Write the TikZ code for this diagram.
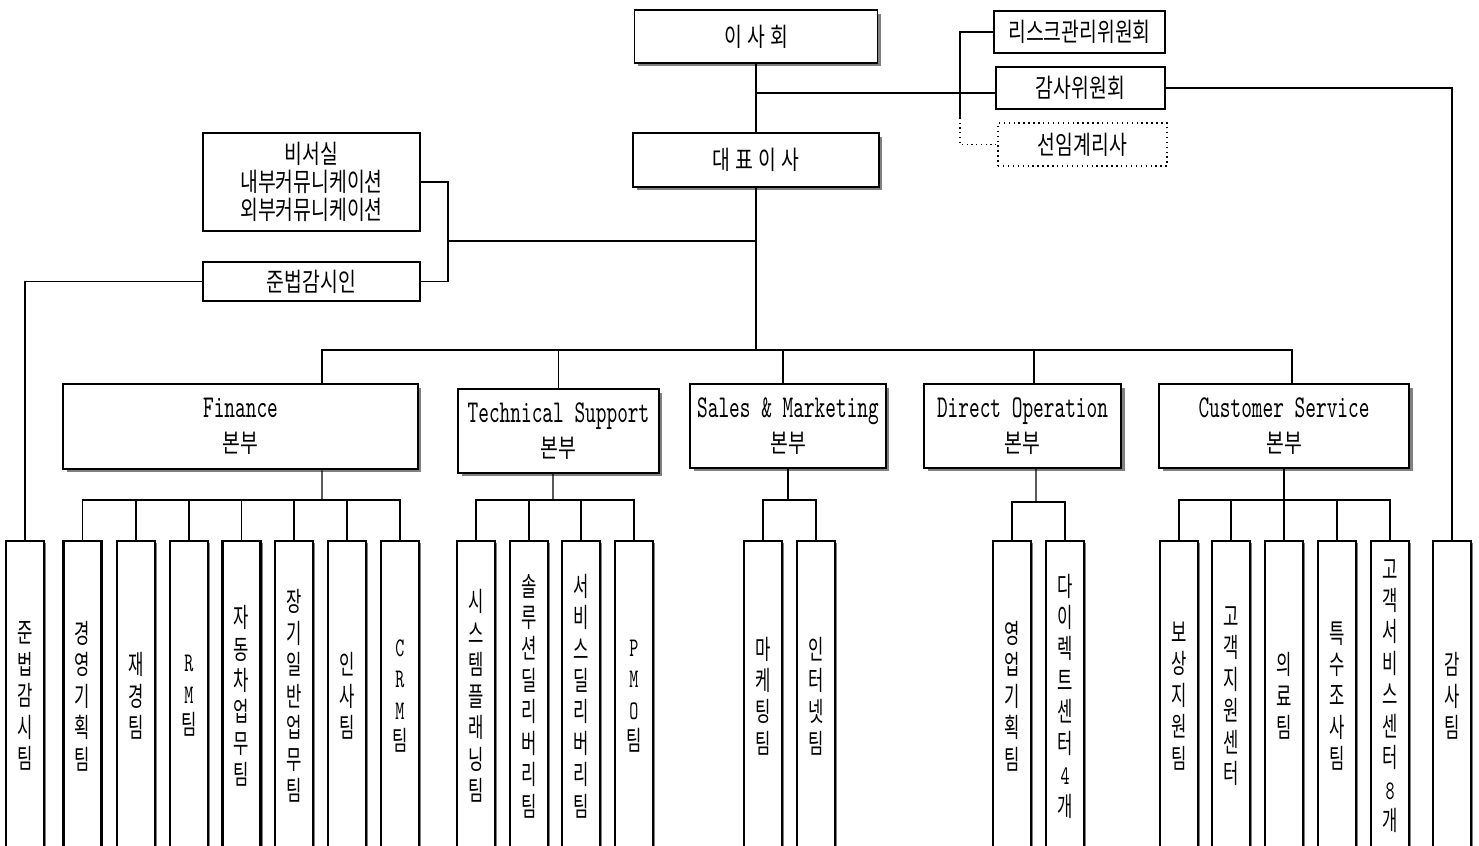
\documentclass[tikz,border=0pt]{standalone}
\usepackage{fontspec}
\usetikzlibrary{shadows}
\newfontfamily\kr{Noto Sans CJK KR}[FakeStretch=0.75]
\newfontfamily\krwide{Noto Sans CJK KR}[FakeStretch=0.75,LetterSpace=20]
\newfontfamily\krtall{Noto Sans CJK KR}[FakeStretch=0.62]
\newfontfamily\lmt{lmmono10-regular.otf}[FakeStretch=0.64]
\newcommand{\eng}[1]{{\lmt\fontsize{18.1}{19.8}\selectfont #1}}
\newcommand{\ltr}[1]{{\lmt #1}}

\begin{document}
\begin{tikzpicture}[
x=0.02cm, y=-0.02cm,
conn/.style={line width=0.7pt},
shade/.style={drop shadow={shadow xshift=0.07cm, shadow yshift=-0.07cm, fill=gray, opacity=1}},
titlebox/.style={draw, line width=0.9pt, fill=white, shade, font=\krwide\fontsize{14.7}{17}\selectfont},
plainbox/.style={draw, line width=0.8pt, fill=white, align=center, inner sep=0pt, font=\kr\fontsize{14.7}{15.9}\selectfont},
divbox/.style={draw, line width=0.9pt, fill=white, align=center, inner sep=0pt, shade, font=\kr\fontsize{14.7}{19.8}\selectfont},
team/.style={draw, line width=1.2pt, fill=white, anchor=north, align=center, inner sep=0pt,
  minimum width=0.76cm, minimum height=6.2cm,
  drop shadow={shadow xshift=0.04cm, shadow yshift=-0.04cm, fill=gray, opacity=1},
  font=\krtall\fontsize{15.3}{17.9}\selectfont}
]
\useasboundingbox (0,0) rectangle (1479,845);
\clip (0,0) rectangle (1479,845);

% top
\node[titlebox, minimum width=4.86cm, minimum height=1.06cm] (board) at (756,36.5) {이사회};
\node[titlebox, minimum width=4.92cm, minimum height=1.08cm] (ceo) at (756,160) {대표이사};

\node[plainbox, minimum width=3.42cm, minimum height=0.84cm] (risk) at (1079.5,32) {리스크관리위원회};
\node[plainbox, minimum width=3.38cm, minimum height=0.84cm] (audit) at (1080.5,88) {감사위원회};
\node[plainbox, dotted, minimum width=3.38cm, minimum height=0.86cm] (actuary) at (1082.5,144.5) {선임계리사};

\node[plainbox, minimum width=4.34cm, minimum height=1.96cm] (secretary) at (311.5,182) {비서실\\내부커뮤니케이션\\외부커뮤니케이션};
\node[plainbox, minimum width=4.34cm, minimum height=0.78cm] (compliance) at (311.5,281.5) {준법감시인};

% divisions
\node[divbox, line width=1.6pt, minimum width=7.1cm, minimum height=1.7cm] (fin) at (240.5,426.5) {\eng{Finance}\\본부};
\node[divbox, minimum width=4.02cm, minimum height=1.68cm] (tech) at (558.5,431) {\eng{Technical Support}\\본부};
\node[divbox, minimum width=3.92cm, minimum height=1.68cm] (sales) at (788,426) {\eng{Sales \& Marketing}\\본부};
\node[divbox, minimum width=3.94cm, minimum height=1.68cm] (direct) at (1022.5,426) {\eng{Direct Operation}\\본부};
\node[divbox, minimum width=5cm, minimum height=1.68cm] (cust) at (1284,426) {\eng{Customer Service}\\본부};

% teams
\node[team] (comteam) at (25,540) {준\\법\\감\\시\\팀};
\node[team] (mgmtplan) at (82.5,540) {경\\영\\기\\획\\팀};
\node[team] (finacct) at (136,540) {재\\경\\팀};
\node[team] (rmteam) at (189,540) {\ltr{R}\\\ltr{M}\\팀};
\node[team] (autoops) at (241.5,540) {자\\동\\차\\업\\무\\팀};
\node[team] (ltgeneral) at (294,540) {장\\기\\일\\반\\업\\무\\팀};
\node[team] (hrteam) at (347,540) {인\\사\\팀};
\node[team] (crmteam) at (400,540) {\ltr{C}\\\ltr{R}\\\ltr{M}\\팀};

\node[team] (sysplan) at (476,540) {시\\스\\템\\플\\래\\닝\\팀};
\node[team] (soldeliv) at (529,540) {솔\\루\\션\\딜\\리\\버\\리\\팀};
\node[team] (svcdeliv) at (581,540) {서\\비\\스\\딜\\리\\버\\리\\팀};
\node[team] (pmo) at (634,540) {\ltr{P}\\\ltr{M}\\\ltr{O}\\팀};

\node[team] (marketing) at (763,540) {마\\케\\팅\\팀};
\node[team] (internet) at (816,540) {인\\터\\넷\\팀};

\node[team] (salesplan) at (1012,540) {영\\업\\기\\획\\팀};
\node[team] (directctr) at (1065,540) {다\\이\\렉\\트\\센\\터\\\ltr{4}\\개};

\node[team] (claims) at (1179,540) {보\\상\\지\\원\\팀};
\node[team] (custsupport) at (1231,540) {고\\객\\지\\원\\센\\터};
\node[team] (medical) at (1284,540) {의\\료\\팀};
\node[team] (special) at (1337,540) {특\\수\\조\\사\\팀};
\node[team] (custsvc) at (1390,540) {고\\객\\서\\비\\스\\센\\터\\\ltr{8}\\개};

\node[team] (auditteam) at (1452,540) {감\\사\\팀};

% connectors top
\coordinate (riskbend) at (960,118);
\coordinate (staffbus) at (448,241);
\coordinate (divbus) at (756,350);

\draw[conn] (board) -- (ceo);
\draw[conn] ([yshift=-0.1cm]audit.west) -- ([yshift=-0.1cm]audit.west -| board.south);
\draw[conn] (risk.west) -| (riskbend);
\draw[conn, dotted] (riskbend) |- (actuary.west);
\draw[conn] (audit.east) -| (auditteam.north);

\draw[conn] (secretary.east) -| (staffbus);
\draw[conn] (compliance.east) -| (staffbus);
\draw[conn] (staffbus) -- (staffbus -| ceo.south);
\draw[conn] (compliance.west) -| (comteam.north);

\draw[conn] (ceo.south) -- (divbus);
\draw[conn] (divbus) -| ([xshift=1.63cm]fin.north);
\draw[conn] (divbus) -| (tech.north);
\draw[conn] (divbus) -| ([xshift=-0.1cm]sales.north);
\draw[conn] (divbus) -| ([xshift=0.23cm]direct.north);
\draw[conn] (divbus) -| ([xshift=0.16cm]cust.north);

% connectors to teams
\coordinate (finbus) at (322,500);
\coordinate (techbus) at (553,500);
\coordinate (salesbus) at (788,500);
\coordinate (directbus) at (1036,502);
\coordinate (custbus) at (1284,500);

\draw[conn] ([xshift=1.63cm]fin.south) -- (finbus);
\draw[conn] (finbus) -| (mgmtplan.north);
\draw[conn] (finbus) -| (finacct.north);
\draw[conn] (finbus) -| (rmteam.north);
\draw[conn] (finbus) -| (autoops.north);
\draw[conn] (finbus) -| (ltgeneral.north);
\draw[conn] (finbus) -| (hrteam.north);
\draw[conn] (finbus) -| (crmteam.north);

\draw[conn] ([xshift=-0.11cm]tech.south) -- (techbus);
\draw[conn] (techbus) -| (sysplan.north);
\draw[conn] (techbus) -| (soldeliv.north);
\draw[conn] (techbus) -| (svcdeliv.north);
\draw[conn] (techbus) -| (pmo.north);

\draw[conn] (sales.south) -- (salesbus);
\draw[conn] (salesbus) -| (marketing.north);
\draw[conn] (salesbus) -| (internet.north);

\draw[conn] ([xshift=0.27cm]direct.south) -- (directbus);
\draw[conn] (directbus) -| (salesplan.north);
\draw[conn] (directbus) -| (directctr.north);

\draw[conn] (cust.south) -- (custbus);
\draw[conn] (custbus) -| (claims.north);
\draw[conn] (custbus) -| (custsupport.north);
\draw[conn] (custbus) -| (medical.north);
\draw[conn] (custbus) -| (special.north);
\draw[conn] (custbus) -| (custsvc.north);

\end{tikzpicture}
\end{document}
